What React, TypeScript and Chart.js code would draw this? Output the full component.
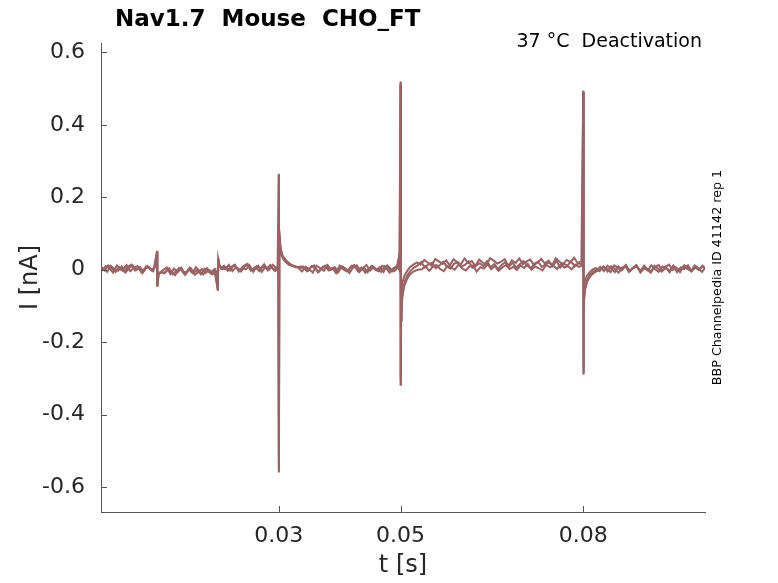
import React, { useEffect, useRef } from "react";
import { Chart, registerables } from "chart.js";

Chart.register(...registerables);

const FONT = "DejaVu Sans";
const TRACE_COLOR = "#9a6262";
const AXIS_COLOR = "#555555";
const TEXT_COLOR = "#262626";

// three sweeps of the protocol, t in ms, I in nA
const sweepATimesMs = [
  0.8, 1.4, 2.0, 2.6, 3.2, 3.8, 4.4, 5.0, 5.6, 6.2, 6.8, 7.4, 8.0, 8.6, 9.2, 9.8,
  10.0, 10.05, 10.2, 10.5,
  11.0, 11.6, 12.2, 12.8, 13.4, 14.0, 14.6, 15.2, 15.8, 16.4, 17.0, 17.6, 18.2, 18.8, 19.4,
  20.0, 20.05, 20.2, 20.5,
  21.0, 21.6, 22.2, 22.8, 23.4, 24.0, 24.6, 25.2, 25.8, 26.4, 27.0, 27.6, 28.2, 28.8, 29.4,
  29.9, 30.0, 30.03, 30.08, 30.2, 30.4, 30.7, 31.1, 31.6, 32.2, 32.8, 33.4,
  34.0, 34.6, 35.2, 35.8, 36.4, 37.0, 37.6, 38.2, 38.8, 39.4, 40.0, 40.6, 41.2, 41.8,
  42.4, 43.0, 43.6, 44.2, 44.8, 45.4, 46.0, 46.6, 47.2, 47.8, 48.4, 49.0, 49.6,
  49.7, 49.85, 49.9, 50.0, 50.03, 50.08, 50.2, 50.4, 50.7, 51.1, 51.6, 52.2, 52.8,
  53.4, 54.0, 54.6, 55.2, 55.8, 56.4, 57.0, 57.6, 58.2, 58.8, 59.4, 60.0, 60.6, 61.2, 61.8,
  62.4, 63.0, 63.6, 64.2, 64.8, 65.4, 66.0, 66.6, 67.2, 67.8, 68.4, 69.0, 69.6, 70.2, 70.8,
  71.4, 72.0, 72.6, 73.2, 73.8, 74.4, 75.0, 75.6, 76.2, 76.8, 77.4, 78.0, 78.6, 79.2, 79.8,
  80.0, 80.03, 80.08, 80.2, 80.4, 80.7, 81.1, 81.6, 82.2,
  82.8, 83.4, 84.0, 84.6, 85.2, 85.8, 86.4, 87.0, 87.6, 88.2, 88.8, 89.4, 90.0, 90.6, 91.2,
  91.8, 92.4, 93.0, 93.6, 94.2, 94.8, 95.4, 96.0, 96.6, 97.2, 97.8, 98.4, 99.0, 99.6, 100.0,
];
const sweepACurrent = [
  0.009, -0.002, 0.012, 0.004, -0.006, 0.007, 0.0, 0.013, -0.004, 0.005, 0.01, -0.007, 0.003, 0.008, -0.003, 0.011,
  0.052, -0.047, -0.012, -0.009,
  -0.001, 0.006, -0.012, 0.003, -0.007, 0.005, -0.014, 0.002, -0.009, 0.007, -0.004, -0.013, 0.004, -0.008, 0.001,
  -0.058, 0.032, 0.012, 0.004,
  0.011, -0.003, 0.008, 0.014, -0.005, 0.006, 0.001, 0.012, -0.006, 0.009, 0.003, 0.015, -0.002, 0.007, -0.004,
  0.003, 0.265, -0.56, 0.11, 0.07, 0.045, 0.032, 0.024, 0.015, 0.012, 0.006, 0.008,
  0.009, -0.004, 0.006, 0.012, -0.007, 0.003, 0.01, -0.002, 0.005, -0.009, 0.011, 0.001, -0.005, 0.008,
  0.013, -0.003, 0.006, -0.008, 0.004, 0.01, -0.001, 0.007, -0.006, 0.012, 0.002, -0.004, 0.008,
  0.004, 0.048, 0.006, 0.52, -0.32, -0.14, -0.085, -0.055, -0.032, -0.016, -0.004, 0.006, 0.012,
  0.021, 0.006, 0.015, 0.019, 0.004, 0.012, 0.022, 0.009, 0.003, 0.017, 0.02, 0.008, 0.014, 0.023, 0.005,
  0.011, 0.018, 0.01, 0.024, 0.007, 0.016, 0.002, 0.013, 0.021, 0.009, 0.019, 0.006, 0.015, 0.024, 0.011,
  0.004, 0.017, 0.022, 0.008, 0.014, 0.02, 0.01, 0.025, 0.006, 0.016, 0.012, 0.023, 0.009, 0.018, 0.014,
  0.495, -0.29, -0.12, -0.065, -0.042, -0.026, -0.014, -0.006, -0.001,
  0.008, -0.004, 0.011, 0.003, -0.007, 0.009, 0.0, 0.013, -0.005, 0.006, 0.01, -0.008, 0.004, -0.002, 0.012,
  0.001, -0.006, 0.009, 0.005, -0.003, 0.011, -0.007, 0.007, 0.002, 0.012, -0.004, 0.006, -0.001, 0.01, 0.003,
];

const sweepBTimesMs = [
  1.0, 1.6, 2.2, 2.8, 3.4, 4.0, 4.6, 5.2, 5.8, 6.4, 7.0, 7.6, 8.2, 8.8, 9.4,
  10.0, 10.05, 10.25, 10.6,
  11.2, 11.8, 12.4, 13.0, 13.6, 14.2, 14.8, 15.4, 16.0, 16.6, 17.2, 17.8, 18.4, 19.0, 19.6,
  20.0, 20.05, 20.25, 20.6,
  21.2, 21.8, 22.4, 23.0, 23.6, 24.2, 24.8, 25.4, 26.0, 26.6, 27.2, 27.8, 28.4, 29.0, 29.6,
  29.95, 30.0, 30.03, 30.1, 30.25, 30.5, 30.8, 31.2, 31.8, 32.5, 33.2,
  33.8, 34.4, 35.0, 35.6, 36.2, 36.8, 37.4, 38.0, 38.6, 39.2, 39.8, 40.4, 41.0, 41.6,
  42.2, 42.8, 43.4, 44.0, 44.6, 45.2, 45.8, 46.4, 47.0, 47.6, 48.2, 48.8, 49.4,
  49.8, 49.87, 50.0, 50.03, 50.1, 50.3, 50.6, 51.0, 51.5, 52.1, 52.7,
  53.3, 53.9, 54.5, 55.1, 55.7, 56.3, 56.9, 57.5, 58.1, 58.7, 59.3, 59.9, 60.5, 61.1, 61.7,
  62.3, 62.9, 63.5, 64.1, 64.7, 65.3, 65.9, 66.5, 67.1, 67.7, 68.3, 68.9, 69.5, 70.1, 70.7,
  71.3, 71.9, 72.5, 73.1, 73.7, 74.3, 74.9, 75.5, 76.1, 76.7, 77.3, 77.9, 78.5, 79.1, 79.7,
  80.0, 80.03, 80.1, 80.3, 80.6, 81.0, 81.5, 82.1,
  82.7, 83.3, 83.9, 84.5, 85.1, 85.7, 86.3, 86.9, 87.5, 88.1, 88.7, 89.3, 89.9, 90.5, 91.1,
  91.7, 92.3, 92.9, 93.5, 94.1, 94.7, 95.3, 95.9, 96.5, 97.1, 97.7, 98.3, 98.9, 99.5, 100.0,
];
const sweepBCurrent = [
  -0.003, 0.01, 0.004, -0.008, 0.012, 0.001, -0.005, 0.008, 0.014, -0.002, 0.006, -0.009, 0.009, 0.003, -0.004,
  0.05, -0.044, -0.01, -0.006,
  -0.01, 0.002, -0.006, -0.015, 0.004, -0.002, -0.011, 0.006, -0.008, -0.001, -0.013, 0.003, -0.005, -0.012, 0.0,
  -0.055, 0.03, 0.01, 0.002,
  0.002, 0.013, -0.004, 0.007, -0.001, 0.01, 0.016, -0.003, 0.005, 0.011, -0.006, 0.008, 0.001, 0.014, 0.004,
  0.002, 0.26, -0.55, 0.09, 0.055, 0.038, 0.028, 0.02, 0.013, 0.009, 0.006,
  -0.005, 0.008, 0.002, -0.008, 0.011, 0.004, -0.003, 0.013, 0.0, 0.007, -0.006, 0.009, 0.003, -0.009,
  0.006, 0.012, -0.002, 0.005, -0.007, 0.01, 0.001, -0.004, 0.011, 0.006, -0.008, 0.004, 0.009,
  0.042, 0.006, 0.51, -0.3, -0.06, -0.035, -0.018, -0.006, 0.006, 0.014, 0.02,
  0.014, 0.027, 0.019, 0.011, 0.03, 0.023, 0.016, 0.026, 0.012, 0.029, 0.021, 0.015, 0.031, 0.018, 0.024,
  0.01, 0.028, 0.02, 0.013, 0.032, 0.025, 0.017, 0.022, 0.029, 0.011, 0.026, 0.019, 0.031, 0.015, 0.023,
  0.028, 0.013, 0.02, 0.03, 0.017, 0.025, 0.012, 0.032, 0.022, 0.016, 0.027, 0.021, 0.033, 0.018, 0.024,
  0.49, -0.27, -0.05, -0.03, -0.018, -0.008, 0.0, 0.004,
  -0.004, 0.009, 0.002, -0.007, 0.012, 0.005, -0.002, 0.01, -0.006, 0.004, 0.013, -0.003, 0.007, 0.0, -0.008,
  0.011, 0.003, -0.005, 0.008, 0.014, -0.001, 0.006, -0.007, 0.01, 0.002, -0.004, 0.012, 0.005, -0.006, 0.004,
];

const sweepCTimesMs = [
  1.2, 1.8, 2.4, 3.0, 3.6, 4.2, 4.8, 5.4, 6.0, 6.6, 7.2, 7.8, 8.4, 9.0, 9.6,
  10.0, 10.05, 10.3, 10.7,
  11.4, 12.0, 12.6, 13.2, 13.8, 14.4, 15.0, 15.6, 16.2, 16.8, 17.4, 18.0, 18.6, 19.2, 19.8,
  20.0, 20.05, 20.3, 20.7,
  21.4, 22.0, 22.6, 23.2, 23.8, 24.4, 25.0, 25.6, 26.2, 26.8, 27.4, 28.0, 28.6, 29.2, 29.8,
  30.0, 30.03, 30.1, 30.3, 30.6, 31.0, 31.5, 32.1, 32.8, 33.5,
  34.2, 34.8, 35.4, 36.0, 36.6, 37.2, 37.8, 38.4, 39.0, 39.6, 40.2, 40.8, 41.4, 42.0,
  42.6, 43.2, 43.8, 44.4, 45.0, 45.6, 46.2, 46.8, 47.4, 48.0, 48.6, 49.2, 49.8,
  50.0, 50.03, 50.1, 50.3, 50.6, 51.0, 51.5, 52.1, 52.8,
  53.5, 54.1, 54.7, 55.3, 55.9, 56.5, 57.1, 57.7, 58.3, 58.9, 59.5, 60.1, 60.7, 61.3, 61.9,
  62.5, 63.1, 63.7, 64.3, 64.9, 65.5, 66.1, 66.7, 67.3, 67.9, 68.5, 69.1, 69.7, 70.3, 70.9,
  71.5, 72.1, 72.7, 73.3, 73.9, 74.5, 75.1, 75.7, 76.3, 76.9, 77.5, 78.1, 78.7, 79.3, 79.9,
  80.0, 80.03, 80.1, 80.3, 80.6, 81.0, 81.5, 82.1, 82.8,
  83.4, 84.0, 84.6, 85.2, 85.8, 86.4, 87.0, 87.6, 88.2, 88.8, 89.4, 90.0, 90.6, 91.2, 91.8,
  92.4, 93.0, 93.6, 94.2, 94.8, 95.4, 96.0, 96.6, 97.2, 97.8, 98.4, 99.0, 99.6, 100.0,
];
const sweepCCurrent = [
  0.006, -0.006, 0.011, 0.002, -0.003, 0.009, -0.008, 0.004, 0.012, -0.001, 0.007, -0.005, 0.01, 0.0, 0.005,
  0.049, -0.046, -0.011, -0.008,
  -0.007, 0.004, -0.013, -0.002, 0.005, -0.01, -0.004, 0.003, -0.014, -0.006, 0.002, -0.009, -0.001, -0.012, -0.005,
  -0.056, 0.031, 0.011, 0.003,
  0.007, -0.002, 0.012, 0.004, -0.005, 0.009, 0.014, 0.0, 0.006, -0.004, 0.01, 0.003, 0.013, -0.001, 0.008,
  0.262, -0.555, 0.1, 0.06, 0.04, 0.03, 0.021, 0.013, 0.009, 0.005,
  0.006, -0.003, 0.01, 0.003, -0.006, 0.008, 0.012, -0.001, 0.005, -0.008, 0.009, 0.002, -0.004, 0.011,
  0.006, -0.007, 0.004, 0.013, -0.002, 0.007, 0.0, -0.006, 0.01, 0.003, -0.005, 0.008, 0.002,
  0.515, -0.32, -0.12, -0.075, -0.045, -0.028, -0.014, -0.005, 0.0,
  0.001, 0.01, -0.003, 0.008, 0.013, 0.002, -0.004, 0.011, 0.006, 0.0, 0.014, 0.004, -0.002, 0.009, 0.012,
  -0.005, 0.007, 0.003, 0.015, 0.001, 0.01, -0.003, 0.006, 0.013, 0.002, 0.008, -0.001, 0.012, 0.005, 0.016,
  0.0, 0.009, 0.004, -0.002, 0.013, 0.007, 0.011, 0.002, 0.015, 0.006, 0.01, 0.001, 0.014, 0.008, 0.012,
  0.49, -0.285, -0.09, -0.055, -0.035, -0.022, -0.012, -0.005, 0.001,
  0.007, -0.005, 0.01, 0.002, -0.008, 0.006, 0.012, -0.002, 0.004, 0.009, -0.006, 0.011, 0.001, -0.004, 0.008,
  0.013, -0.003, 0.005, -0.007, 0.01, 0.003, -0.001, 0.012, 0.006, -0.005, 0.009, 0.0, 0.011, 0.004,
];

const xTicks = [0.03, 0.05, 0.08];
const yTicks = [-0.6, -0.4, -0.2, 0, 0.2, 0.4, 0.6];
const xRange = [0.0008, 0.1];
const yRange = [-0.669, 0.626];

const toPoints = (times: number[], values: number[]) =>
  times.map((t, i) => ({ x: t / 1000, y: values[i] }));

const trace = (label: string, times: number[], values: number[]) => ({
  label,
  data: toPoints(times, values),
  borderColor: TRACE_COLOR,
  borderWidth: 2,
  pointRadius: 0,
  tension: 0,
  fill: false,
});

// inward ticks plus the free texts around the axes
const decorations = {
  id: "decorations",
  afterDraw(chart: any) {
    const { ctx, chartArea, scales } = chart;
    ctx.save();
    ctx.strokeStyle = AXIS_COLOR;
    ctx.lineWidth = 1;
    ctx.beginPath();
    scales.x.ticks.forEach((t: any) => {
      const px = Math.round(scales.x.getPixelForValue(t.value)) + 0.5;
      ctx.moveTo(px, chartArea.bottom);
      ctx.lineTo(px, chartArea.bottom - 6);
    });
    scales.y.ticks.forEach((t: any) => {
      const py = Math.round(scales.y.getPixelForValue(t.value)) + 0.5;
      ctx.moveTo(chartArea.left, py);
      ctx.lineTo(chartArea.left + 6, py);
    });
    ctx.stroke();

    ctx.fillStyle = "#000000";
    ctx.textBaseline = "alphabetic";
    ctx.font = `bold 23px "${FONT}"`;
    ctx.textAlign = "left";
    ctx.fillText("Nav1.7  Mouse  CHO_FT", chartArea.left + 14, chartArea.top - 17);

    ctx.font = `19px "${FONT}"`;
    ctx.textAlign = "right";
    ctx.fillText("37 °C  Deactivation", chartArea.right - 3, chartArea.top + 4);

    ctx.font = `12.7px "${FONT}"`;
    ctx.textAlign = "center";
    ctx.translate(chartArea.right + 16, (chartArea.top + chartArea.bottom) / 2);
    ctx.rotate(-Math.PI / 2);
    ctx.fillText("BBP Channelpedia ID 41142 rep 1", 0, 0);
    ctx.restore();
  },
};

export default function App() {
  const canvasRef = useRef<HTMLCanvasElement>(null);

  useEffect(() => {
    document.body.style.margin = "0";
    if (!canvasRef.current) return;
    const chart = new Chart(canvasRef.current, {
      type: "line",
      data: {
        datasets: [
          trace("sweep C", sweepCTimesMs, sweepCCurrent),
          trace("sweep B", sweepBTimesMs, sweepBCurrent),
          trace("sweep A", sweepATimesMs, sweepACurrent),
        ],
      },
      options: {
        animation: false,
        responsive: true,
        maintainAspectRatio: false,
        layout: { padding: { top: 43, right: 73, left: 0, bottom: 0 } },
        plugins: { legend: { display: false }, tooltip: { enabled: false }, title: { display: false } },
        scales: {
          x: {
            type: "linear",
            min: xRange[0],
            max: xRange[1],
            grid: { display: false, drawTicks: false },
            border: { display: true, color: AXIS_COLOR, width: 1 },
            afterBuildTicks: (scale: any) => {
              scale.ticks = xTicks.map((v) => ({ value: v }));
            },
            afterFit: (scale: any) => {
              scale.height = 71;
            },
            ticks: {
              autoSkip: false,
              maxRotation: 0,
              padding: 11,
              color: TEXT_COLOR,
              font: { family: FONT, size: 22 },
              callback: (v: any) => String(v),
            },
            title: {
              display: true,
              text: "t [s]",
              color: TEXT_COLOR,
              font: { family: FONT, size: 24 },
              padding: { top: 0, bottom: 3 },
            },
          },
          y: {
            type: "linear",
            min: yRange[0],
            max: yRange[1],
            grid: { display: false, drawTicks: false },
            border: { display: true, color: AXIS_COLOR, width: 1 },
            afterBuildTicks: (scale: any) => {
              scale.ticks = yTicks.map((v) => ({ value: v }));
            },
            afterFit: (scale: any) => {
              scale.width = 101;
            },
            ticks: {
              autoSkip: false,
              padding: 16,
              color: TEXT_COLOR,
              font: { family: FONT, size: 22 },
              callback: (v: any) => String(v),
            },
            title: {
              display: true,
              text: "I [nA]",
              color: TEXT_COLOR,
              font: { family: FONT, size: 24 },
              padding: { top: 16, bottom: 0 },
            },
          },
        },
      },
      plugins: [decorations],
    });
    return () => chart.destroy();
  }, []);

  return (
    <div style={{ position: "relative", width: 778, height: 583 }}>
      <canvas ref={canvasRef} />
    </div>
  );
}
